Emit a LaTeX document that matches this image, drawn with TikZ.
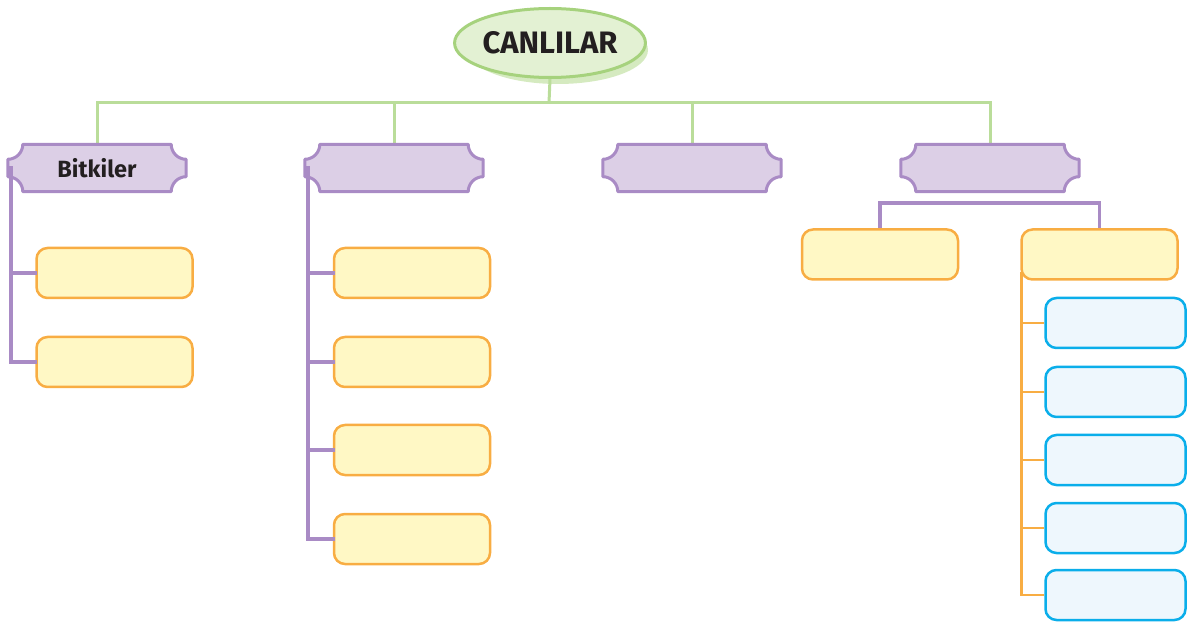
\documentclass[tikz,border=0pt]{standalone}
\usepackage{fontspec}
\setmainfont{Fira Sans}
\usetikzlibrary{shapes.geometric,calc}
\definecolor{gline}{HTML}{BADD9A}
\definecolor{gstroke}{HTML}{A6D27D}
\definecolor{gfill}{HTML}{E3F1D3}
\definecolor{gshadow}{HTML}{D5EAC0}
\definecolor{pstroke}{HTML}{A98BC5}
\definecolor{pfill}{HTML}{DCCFE6}
\definecolor{yfill}{HTML}{FFF8C5}
\definecolor{ostroke}{HTML}{F8AD43}
\definecolor{bstroke}{HTML}{0AAEEA}
\definecolor{bfill}{HTML}{EEF7FD}
\definecolor{ink}{HTML}{231F20}
\tikzset{
  x=1pt,y=1pt,
  gconn/.style={draw=gline,line width=3pt},
  pconn/.style={draw=pstroke,line width=3.5pt,line cap=rect},
  oconn/.style={draw=ostroke,line width=2.8pt},
  bannerbox/.style={minimum width=178pt,minimum height=47pt,inner sep=0pt,draw=none,text=ink,font=\bfseries\fontsize{23.5}{26}\selectfont},
  bannerline/.style={draw=pstroke,fill=pfill,line width=3pt,line join=round},
  ybox/.style={draw=ostroke,fill=yfill,line width=2.5pt,rounded corners=11pt,minimum width=156pt,minimum height=50pt,inner sep=0pt},
  cbox/.style={draw=bstroke,fill=bfill,line width=2.5pt,rounded corners=11pt,minimum width=140pt,minimum height=50pt,inner sep=0pt},
}
\newcommand{\bannershape}[1]{%
  \path[bannerline]
    let \p1=(#1.north west), \p2=(#1.south east), \n1={15} in
    (\x1+\n1,\y1) -- (\x2-\n1,\y1)
    .. controls (\x2-\n1,\y1-0.552*\n1) and (\x2-0.552*\n1,\y1-\n1) .. (\x2,\y1-\n1)
    -- (\x2,\y2+\n1)
    .. controls (\x2-0.552*\n1,\y2+\n1) and (\x2-\n1,\y2+0.552*\n1) .. (\x2-\n1,\y2)
    -- (\x1+\n1,\y2)
    .. controls (\x1+\n1,\y2+0.552*\n1) and (\x1+0.552*\n1,\y2+\n1) .. (\x1,\y2+\n1)
    -- (\x1,\y1-\n1)
    .. controls (\x1+0.552*\n1,\y1-\n1) and (\x1+\n1,\y1-0.552*\n1) .. (\x1+\n1,\y1)
    -- cycle;}
\begin{document}
\begin{tikzpicture}
\useasboundingbox (0,0) rectangle (1195,622);
% root
\fill[gshadow] (558,572) ellipse [x radius=90, y radius=34];
\node[ellipse,draw=gstroke,fill=gfill,line width=3pt,minimum width=189pt,minimum height=69pt,inner sep=0pt,text=ink,font=\bfseries\fontsize{31}{34}\selectfont] (root) at (550,579) {CANLILAR};
% banners (placeholders)
\node[bannerbox] (b1) at (97,454) {};
\node[bannerbox] (b2) at (394,454) {};
\node[bannerbox] (b3) at (692,454) {};
\node[bannerbox] (b4) at (990,454) {};
% green connectors
\coordinate (j) at (549,519);
\draw[gconn] (root.south) -- (j);
\draw[gconn] (b1.north) -- (b1.north |- j) -- (b4.north |- j) -- (b4.north);
\draw[gconn] (b2.north) -- (b2.north |- j);
\draw[gconn] (b3.north) -- (b3.north |- j);
% banner shapes
\bannershape{b1}
\bannershape{b2}
\bannershape{b3}
\bannershape{b4}
\node[bannerbox] at (b1) {Bitkiler};
% group 1
\node[ybox] (y11) at (114.5,349) {};
\node[ybox] (y12) at (114.5,260) {};
\draw[pconn] ([xshift=3pt]b1.west) |- (y12.west);
\draw[pconn] ([xshift=3pt]b1.west |- y11.west) -- (y11.west);
% group 2
\node[ybox] (y21) at (412,349) {};
\node[ybox] (y22) at (412,260) {};
\node[ybox] (y23) at (412,172) {};
\node[ybox] (y24) at (412,83) {};
\draw[pconn] ([xshift=3pt]b2.west) |- (y24.west);
\draw[pconn] ([xshift=3pt]b2.west |- y21.west) -- (y21.west);
\draw[pconn] ([xshift=3pt]b2.west |- y22.west) -- (y22.west);
\draw[pconn] ([xshift=3pt]b2.west |- y23.west) -- (y23.west);
% group 4
\node[ybox] (y41) at (880,367.5) {};
\node[ybox] (y42) at (1099.5,367.5) {};
\draw[pconn,line cap=butt] (y41.north) -- ++(0,25) -| (y42.north);
% blue boxes
\node[cbox] (c1) at (1115.5,299) {};
\node[cbox] (c2) at (1115.5,230) {};
\node[cbox] (c3) at (1115.5,162) {};
\node[cbox] (c4) at (1115.5,94) {};
\node[cbox] (c5) at (1115.5,27) {};
\coordinate (os) at ([xshift=1.5pt,yshift=9pt]y42.south west);
\draw[oconn] (os) |- (c5.west);
\draw[oconn] (os |- c1.west) -- (c1.west);
\draw[oconn] (os |- c2.west) -- (c2.west);
\draw[oconn] (os |- c3.west) -- (c3.west);
\draw[oconn] (os |- c4.west) -- (c4.west);
\end{tikzpicture}
\end{document}
